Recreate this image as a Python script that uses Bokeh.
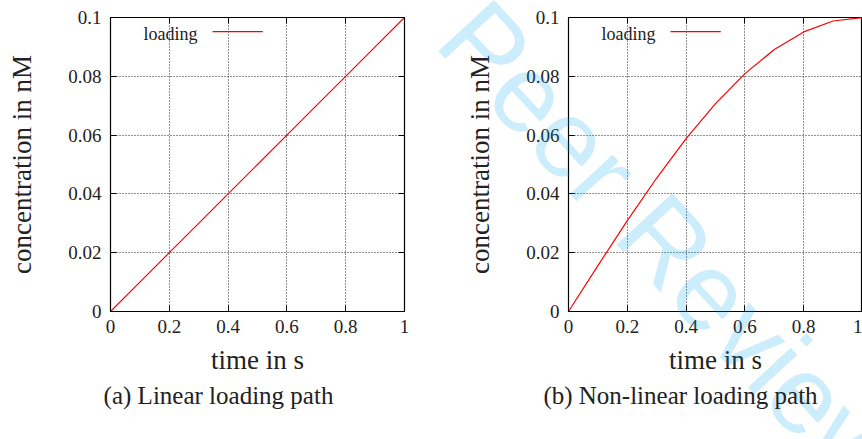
from bokeh.plotting import figure
from bokeh.models import Label, BoxAnnotation, LinearAxis, FixedTicker, Range1d, GridBox
from bokeh.layouts import row, column
from bokeh.embed import file_html
from bokeh.resources import INLINE

# ---- data ----
time_s = [0.0, 0.1, 0.2, 0.3, 0.4, 0.5, 0.6, 0.7, 0.8, 0.9, 1.0]
conc_linear = [0.0, 0.01, 0.02, 0.03, 0.04, 0.05, 0.06, 0.07, 0.08, 0.09, 0.1]
conc_nonlinear = [0.0, 0.0156, 0.0309, 0.0454, 0.0588, 0.0707, 0.0809, 0.0891, 0.0951, 0.0988, 0.1]

x_ticks = [0, 0.2, 0.4, 0.6, 0.8, 1.0]
x_tick_labels = ["0", "0.2", "0.4", "0.6", "0.8", "1"]
y_ticks = [0, 0.02, 0.04, 0.06, 0.08, 0.1]
y_tick_labels = ["0", "0.02", "0.04", "0.06", "0.08", "0.1"]

series_name = "loading"
x_title = "time in s"
y_title = "concentration in nM"
captions = ["(a) Linear loading path", "(b) Non-linear loading path"]
watermark_text = "Peer Review"

SERIF = "Liberation Serif"
W, H = 862, 439


def style_axis(ax, ticks, labels, show_labels=True):
    ax.ticker = FixedTicker(ticks=ticks)
    ax.minor_tick_line_color = None
    ax.major_tick_in = 6
    ax.major_tick_out = 0
    ax.major_tick_line_color = "black"
    ax.axis_line_color = "black"
    ax.major_label_text_font = SERIF
    ax.major_label_text_color = "#222222"
    ax.major_label_text_font_size = "19px"
    if show_labels:
        ax.major_label_overrides = dict(zip(ticks, labels))
    else:
        ax.major_label_overrides = {t: "" for t in ticks}
        ax.major_label_standoff = 0
        ax.axis_line_color = None


def make_panel(yvals, mirror_right=True, border_right=27):
    p = figure(width=431, height=439, output_backend="svg", toolbar_location=None,
               x_range=Range1d(0, 1), y_range=Range1d(0, 0.1),
               min_border_left=110 if mirror_right else 137, min_border_right=border_right,
               min_border_top=17, min_border_bottom=128)
    p.background_fill_color = "white"
    p.border_fill_color = "white"
    p.outline_line_color = "black"
    p.outline_line_width = 1.2

    style_axis(p.xaxis[0], x_ticks, x_tick_labels)
    style_axis(p.yaxis[0], y_ticks, y_tick_labels)
    p.xaxis.major_label_standoff = 8
    p.yaxis.major_label_standoff = 9
    for ax, t in ((p.xaxis[0], x_title), (p.yaxis[0], y_title)):
        ax.axis_label = t
        ax.axis_label_text_font = SERIF
        ax.axis_label_text_font_size = "27px"
        ax.axis_label_text_font_style = "normal"
        ax.axis_label_text_color = "#222222"
    p.xaxis.axis_label_standoff = 9
    p.yaxis.axis_label_standoff = 28

    top_ax = LinearAxis()
    style_axis(top_ax, x_ticks, x_tick_labels, show_labels=False)
    p.add_layout(top_ax, "above")
    if mirror_right:
        r_ax = LinearAxis()
        style_axis(r_ax, y_ticks, y_tick_labels, show_labels=False)
        p.add_layout(r_ax, "right")

    p.xgrid.ticker = FixedTicker(ticks=x_ticks)
    p.ygrid.ticker = FixedTicker(ticks=y_ticks)
    for g in (p.xgrid[0], p.ygrid[0]):
        g.grid_line_color = "#222222"
        g.grid_line_dash = "1 2"
        g.grid_line_width = 1

    p.line(time_s, yvals, line_color="red", line_width=1.2)

    # key (gnuplot style: text then sample line)
    p.add_layout(Label(x=0.112, y=0.0945, text=series_name, text_font=SERIF,
                       text_font_size="18px", text_color="#222222",
                       text_align="left", text_baseline="middle"))
    p.add_layout(BoxAnnotation(left=0.347, right=0.518, top=0.0952, bottom=0.0952,
                               fill_color=None, line_color="red", line_alpha=1.0,
                               line_width=1.2))
    return p


p1 = make_panel(conc_linear, mirror_right=True, border_right=27)
p2 = make_panel(conc_nonlinear, mirror_right=False, border_right=0)

# transparent overlay spanning the whole page: captions and watermark (pixel coordinates)
ov = figure(width=W, height=H, output_backend="svg", toolbar_location=None,
            x_range=Range1d(0, W), y_range=Range1d(0, H),
            x_axis_type=None, y_axis_type=None,
            min_border=0, min_border_left=0, min_border_right=0,
            min_border_top=0, min_border_bottom=0)
ov.background_fill_color = None
ov.border_fill_color = None
ov.outline_line_color = None
ov.grid.visible = False

ov.add_layout(Label(x=460, y=H - 18, text=watermark_text, angle=-0.826,
                    text_font="Liberation Sans", text_font_size="110px",
                    text_color="#00a6ef", text_alpha=0.2,
                    text_align="left", text_baseline="alphabetic"))
for cx, cap in zip([218, 680], captions):
    ov.add_layout(Label(x=cx, y=H - 395, text=cap, text_font=SERIF,
                        text_font_size="25px", text_color="#222222",
                        text_align="center", text_baseline="middle"))

layout = GridBox(children=[(row(p1, p2), 0, 0), (column(ov), 0, 0)])
open("out.html", "w").write(file_html(layout, INLINE))
